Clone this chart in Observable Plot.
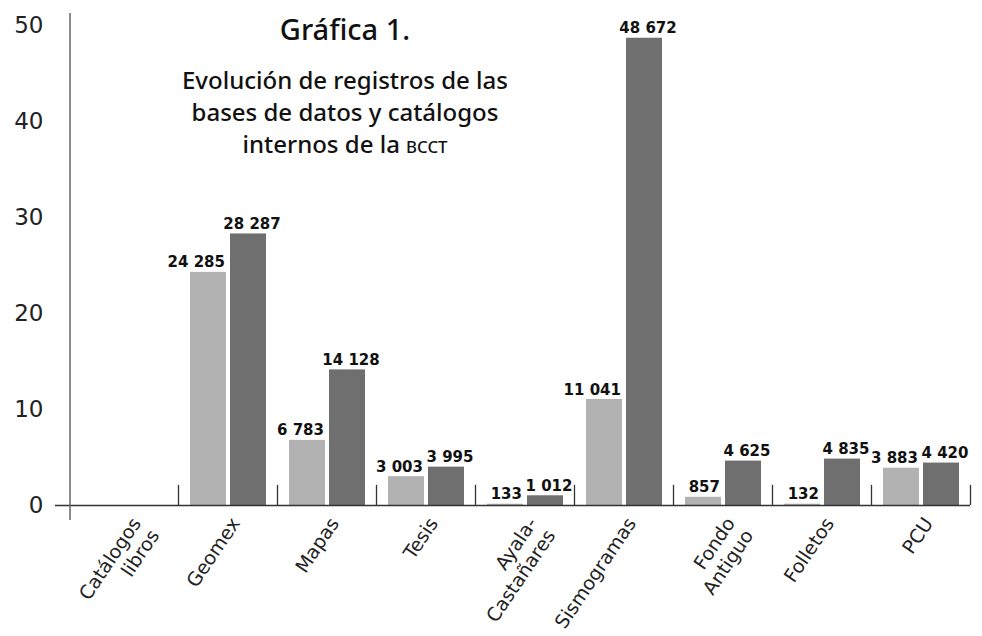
<!DOCTYPE html>
<html>
<head>
<meta charset="utf-8">
<script src="https://cdn.jsdelivr.net/npm/d3@7"></script>
<script src="https://cdn.jsdelivr.net/npm/@observablehq/plot@0.6"></script>
<style>
  html, body { margin: 0; padding: 0; background: #fff; }
  #wrap { position: relative; width: 982px; height: 636px; }
  #title {
    position: absolute; left: 150px; top: 11px; width: 390px; text-align: center;
    font-family: "Noto Sans", "DejaVu Sans Condensed", Roboto, sans-serif;
    font-stretch: condensed;
    color: #111;
  }
  #title .t { font-size: 29px; font-weight: 500; line-height: 36px; }
  #title .s { font-size: 24px; font-weight: 500; line-height: 32px; margin-top: 17px; }
  #title .sc { font-size: 0.7em; }
</style>
</head>
<body>
<div id="wrap">
  <div id="chart"></div>
  <div id="title">
    <div class="t">Gráfica 1.</div>
    <div class="s">Evolución de registros de las<br>bases de datos y catálogos<br>internos de la <span class="sc">BCCT</span></div>
  </div>
</div>
<script>
const categories = ["Catálogos\nlibros", "Geomex", "Mapas", "Tesis", "Ayala-\nCastañares", "Sismogramas", "Fondo\nAntiguo", "Folletos", "PCU"];
const serieA = [null, 24285, 6783, 3003, 133, 11041, 857, 132, 3883];
const serieB = [null, 28287, 14128, 3995, 1012, 48672, 4625, 4835, 4420];
const yTicks = [0, 10, 20, 30, 40, 50];

const rows = categories.map((c, i) => ({cat: c, a: serieA[i], b: serieB[i]}));
const fmt = v => d3.format(",")(v).replace(/,/g, " ");

const W = 982, H = 636, mL = 70, mR = 12, mT = 25, mB = 131;
const numFont = "DejaVu Sans, sans-serif";

const plot = Plot.plot({
  width: W, height: H,
  marginLeft: mL, marginRight: mR, marginTop: mT, marginBottom: mB,
  style: {background: "#fff", fontFamily: numFont},
  x: {domain: categories, padding: 0, insetLeft: 9, axis: null},
  y: {domain: [0, 50], ticks: yTicks, tickSize: 0, tickPadding: 27, label: null, tickFormat: d => d},
  marks: [
    Plot.axisY({ticks: yTicks, tickSize: 0, tickPadding: 27, fontSize: 23, fill: "#222", label: null}),
    Plot.barY(rows.filter(d => d.a != null), {x: "cat", y: d => d.a / 1000, fill: "#b2b2b2", insetLeft: 12, insetRight: 51}),
    Plot.barY(rows.filter(d => d.b != null), {x: "cat", y: d => d.b / 1000, fill: "#6f6f6f", insetLeft: 52, insetRight: 11}),
    Plot.text(rows.filter(d => d.a != null), {x: "cat", y: d => d.a / 1000, text: d => fmt(d.a), textAnchor: "end", dx: -3, dy: -5, lineAnchor: "bottom", fontSize: 15, fontWeight: 600, fill: "#111"}),
    Plot.text(rows.filter(d => d.b != null), {x: "cat", y: d => d.b / 1000, text: d => fmt(d.b), textAnchor: "middle", dx: 24, dy: -5, lineAnchor: "bottom", fontSize: 15, fontWeight: 600, fill: "#111"}),
    Plot.ruleX(categories, {x: d => d, dx: 49.5, y1: 0, y2: 2.1, stroke: "#333", strokeWidth: 1.3}),
    Plot.ruleY([0], {stroke: "#333", strokeWidth: 1.5, insetLeft: -15}),
    Plot.text(categories, {x: d => d, frameAnchor: "bottom", text: d => d, rotate: -56, textAnchor: "end", lineAnchor: "top", dx: 0, dy: 9, fontSize: 19, fill: "#222", lineHeight: 1.15})
  ]
});

d3.select(plot).append("line")
  .attr("x1", mL).attr("x2", mL)
  .attr("y1", mT - 12).attr("y2", H - mB + 15)
  .attr("stroke", "#666").attr("stroke-width", 1.5);

document.getElementById("chart").appendChild(plot);
</script>
</body>
</html>
